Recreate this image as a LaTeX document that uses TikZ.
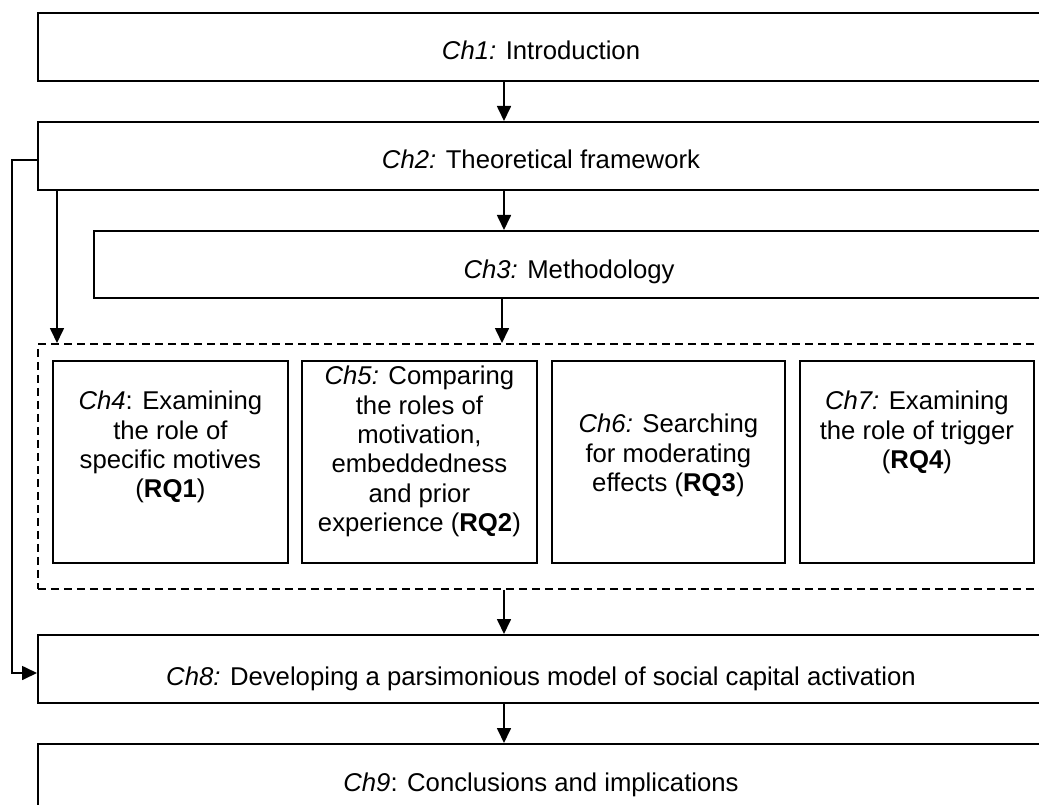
\documentclass[tikz,border=0pt]{standalone}
\usepackage{fontspec}
\setmainfont{Liberation Sans}
\usetikzlibrary{arrows.meta}
\begin{document}
\begin{tikzpicture}[x=1pt, y=-1pt,
  chapterbox/.style={draw, line width=2pt, rectangle, anchor=north west, inner sep=0pt},
  studybox/.style={draw, line width=1.8pt, rectangle, anchor=north west, inner sep=0pt, minimum height=202pt},
  groupbox/.style={draw, line width=1.6pt, dash pattern=on 8pt off 5pt, rectangle, anchor=north west, inner sep=0pt, minimum width=1006pt},
  caption/.style={font=\fontsize{25.7}{29.3}\selectfont, align=center, inner sep=0pt},
  arr/.style={line width=1.7pt, -{Triangle[width=14pt,length=15pt]}},
]
\useasboundingbox (0,0) rectangle (1039,805);
\clip (0,0) rectangle (1039,805);

% chapter boxes; their right edges lie just past the page edge
\node[chapterbox, minimum width=1006pt, minimum height=68pt] (ch1) at (37,12) {};
\node[chapterbox, minimum width=1006pt, minimum height=68pt] (ch2) at (37,121) {};
\node[chapterbox, minimum width=950pt, minimum height=67pt] (ch3) at (93,230) {};
\node[groupbox, minimum height=245pt] (rq) at (37,343) {};
\node[chapterbox, minimum width=1006pt, minimum height=68pt] (ch8) at (37,634) {};
\node[chapterbox, minimum width=1006pt, minimum height=100pt] (ch9) at (37,743) {};

% empirical chapters
\node[studybox, minimum width=235pt] (ch4) at (52,360) {};
\node[studybox, minimum width=235pt] (ch5) at (301,360) {};
\node[studybox, minimum width=233pt] (ch6) at (551,360) {};
\node[studybox, minimum width=234pt] (ch7) at (799,360) {};

% titles
\node[caption, anchor=base] (t1) at (ch1.center |- 0,60) {{\itshape Ch1:} Introduction};
\node[caption, anchor=base] (t2) at (ch2.center |- 0,169) {{\itshape Ch2:} Theoretical framework};
\node[caption, anchor=base] (t3) at (ch3.center |- 0,278) {{\itshape Ch3:} Methodology};
\node[caption, anchor=base] (t8) at (ch8.center |- 0,685) {{\itshape Ch8:} Developing a parsimonious model of social capital activation};
\node[caption, anchor=base] (t9) at (ch9.center |- 0,791) {{\itshape Ch9}: Conclusions and implications};

\node[caption, anchor=north] (t4) at (ch4.center |- 0,391) {{\itshape Ch4}: Examining\\the role of\\specific motives\\(\textbf{RQ1})};
\node[caption, anchor=north] (t5) at (ch5.center |- 0,366) {{\itshape Ch5:} Comparing\\the roles of\\motivation,\\embeddedness\\and prior\\experience (\textbf{RQ2})};
\node[caption, anchor=north] (t6) at (ch6.center |- 0,414) {{\itshape Ch6:} Searching\\for moderating\\effects (\textbf{RQ3})};
\node[caption, anchor=north] (t7) at (ch7.center |- 0,391) {{\itshape Ch7:} Examining\\the role of trigger\\(\textbf{RQ4})};

% reading order
\coordinate (spine) at (504,0);
\draw[arr] (spine |- ch1.south) -- (spine |- ch2.north);
\draw[arr] (spine |- ch2.south) -- (spine |- ch3.north);
\draw[arr] ([xshift=-2pt]spine |- ch3.south) -- ([xshift=-2pt]spine |- rq.north);
\draw[arr] ([xshift=20pt]ch2.south west) -- ([xshift=20pt]ch2.south west |- rq.north);
\draw[arr] (spine |- rq.south) -- (spine |- ch8.north);
\draw[arr] (spine |- ch8.south) -- (spine |- ch9.north);
\draw[arr] ([yshift=-4pt]ch2.west) -- ++(-25,0) |- ([yshift=-4pt]ch8.west);
\end{tikzpicture}
\end{document}
